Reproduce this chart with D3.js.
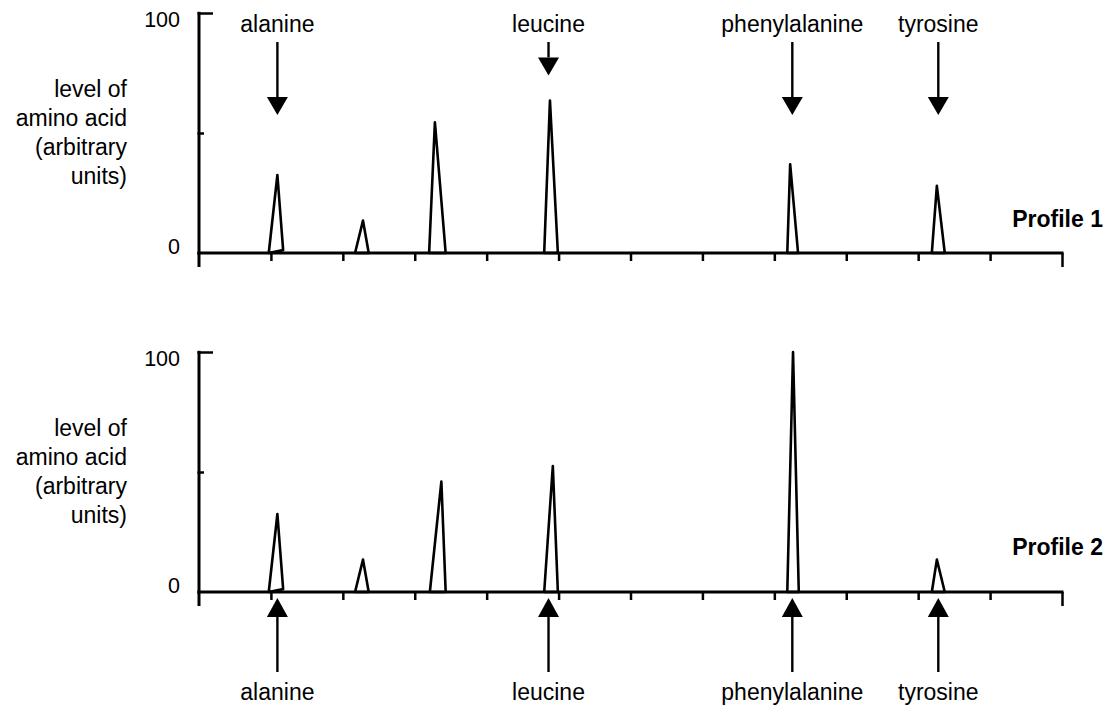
<!DOCTYPE html>
<html>
<head>
<meta charset="utf-8">
<script src="https://cdn.jsdelivr.net/npm/d3@7"></script>
<style>
  body { margin: 0; background: #fff; }
  svg text { font-family: "Liberation Sans", Arial, sans-serif; fill: #000; }
</style>
</head>
<body>
<div id="chart"></div>
<script>
// peaks, x in axis units (0..12 across the axis), heights 0..100
const profiles = ["Profile 1", "Profile 2"];

const peakStart1  = [0.97, 2.17, 3.20, 4.80, 8.18, 10.19];
const peakApex1   = [1.09, 2.28, 3.28, 4.88, 8.22, 10.26];
const peakEnd1    = [1.17, 2.36, 3.43, 4.99, 8.33, 10.37];
const peakHeight1 = [32.5, 13.5, 54.5, 63.5, 37, 28];

const peakStart2  = [0.97, 2.17, 3.21, 4.80, 8.18, 10.19];
const peakApex2   = [1.09, 2.28, 3.37, 4.92, 8.26, 10.26];
const peakEnd2    = [1.17, 2.36, 3.43, 4.99, 8.34, 10.37];
const peakHeight2 = [32.5, 13.5, 46, 52.5, 100, 13.5];

// small lift at the right foot of the first peak
const peakEndLevel = [1.2, 0, 0, 0, 0, 0];

// labelled amino acids and where their arrows point
const aminoAcids = ["alanine", "leucine", "phenylalanine", "tyrosine"];
const arrowX     = [1.09, 4.86, 8.25, 10.28];
const arrowTipTop = [57.5, 74, 57.5, 57.5];   // y value of arrow tip, profile 1

const xTicks = d3.range(1, 13);
const yTicks = [0, 50, 100];
const yLabelLines = ["level of", "amino acid", "(arbitrary", "units)"];

const width = 1110, height = 709;
const x0 = 199, x1 = 1062;

const svg = d3.select("#chart").append("svg")
  .attr("width", width)
  .attr("height", height);

const x = d3.scaleLinear().domain([0, 12]).range([x0, x1]);

const panels = [
  { top: 13,  base: 253, start: peakStart1, apex: peakApex1, end: peakEnd1, h: peakHeight1, name: profiles[0], nameY: 227 },
  { top: 352, base: 592, start: peakStart2, apex: peakApex2, end: peakEnd2, h: peakHeight2, name: profiles[1], nameY: 555 }
];

const line = d3.line();

panels.forEach((p, pi) => {
  const y = d3.scaleLinear().domain([0, 100]).range([p.base, p.top]);
  const g = svg.append("g");

  // x axis: ticks only, domain drawn by hand
  const xa = g.append("g")
    .attr("transform", `translate(0,${p.base})`)
    .call(d3.axisBottom(x).tickValues(xTicks).tickSize(8).tickSizeOuter(0).tickFormat(""));
  xa.select(".domain").remove();
  xa.selectAll(".tick line")
    .attr("stroke", "#000")
    .attr("stroke-width", 2.5)
    .attr("y2", d => d === 12 ? 14 : 8);

  g.append("line")
    .attr("x1", x0 - 1.5).attr("x2", x1 + 1.5)
    .attr("y1", p.base).attr("y2", p.base)
    .attr("stroke", "#000").attr("stroke-width", 3);

  // y axis: ticks point inward
  const ya = g.append("g")
    .attr("transform", `translate(${x0},0)`)
    .call(d3.axisRight(y).tickValues(yTicks).tickSize(5).tickSizeOuter(0).tickFormat(""));
  ya.select(".domain").remove();
  ya.selectAll(".tick line")
    .attr("stroke", "#000")
    .attr("stroke-width", 2.5)
    .attr("x1", -1.5)
    .attr("x2", d => d === 100 ? 14 : (d === 50 ? 5 : 0));

  g.append("line")
    .attr("x1", x0).attr("x2", x0)
    .attr("y1", y(100) - 1.2).attr("y2", p.base + 14)
    .attr("stroke", "#000").attr("stroke-width", 3);

  // tick labels
  g.append("text").attr("x", 180).attr("y", y(100) + 14)
    .attr("text-anchor", "end").attr("font-size", "21.5px").text("100");
  g.append("text").attr("x", 180).attr("y", y(0) + 1)
    .attr("text-anchor", "end").attr("font-size", "21.5px").text("0");

  // y axis title
  const yl = g.append("text")
    .attr("text-anchor", "end")
    .attr("font-size", "23px");
  yLabelLines.forEach((t, i) => {
    yl.append("tspan").attr("x", 127).attr("y", p.top + 84 + i * 29).text(t);
  });

  // profile name
  g.append("text")
    .attr("x", 1103).attr("y", p.nameY)
    .attr("text-anchor", "end")
    .attr("font-size", "23px")
    .attr("font-weight", "bold")
    .text(p.name);

  // peaks
  const peaks = p.h.map((hv, i) => [
    [x(p.start[i]), y(0)],
    [x(p.apex[i]), y(hv)],
    [x(p.end[i]), y(peakEndLevel[i])]
  ]);
  g.selectAll("path.peak")
    .data(peaks)
    .join("path")
      .attr("class", "peak")
      .attr("d", d => line(d) + "Z")
      .attr("fill", "none")
      .attr("stroke", "#000")
      .attr("stroke-width", 2.6)
      .attr("stroke-linejoin", "round");

  // arrows and amino acid labels
  aminoAcids.forEach((name, i) => {
    const ax = x(arrowX[i]);
    let tailY, headBase, tip, labelY;
    if (pi === 0) {
      tip = y(arrowTipTop[i]);
      headBase = tip - 18;
      tailY = 42;
      labelY = 32;
    } else {
      tip = p.base + 6;
      headBase = tip + 19;
      tailY = 672;
      labelY = 700;
    }
    g.append("line")
      .attr("x1", ax).attr("x2", ax)
      .attr("y1", tailY).attr("y2", headBase)
      .attr("stroke", "#000").attr("stroke-width", 2.4);
    g.append("path")
      .attr("d", `M${ax - 10.5},${headBase}L${ax + 10.5},${headBase}L${ax},${tip}Z`)
      .attr("fill", "#000");
    g.append("text")
      .attr("x", ax).attr("y", labelY)
      .attr("text-anchor", "middle")
      .attr("font-size", "23px")
      .text(name);
  });
});
</script>
</body>
</html>
